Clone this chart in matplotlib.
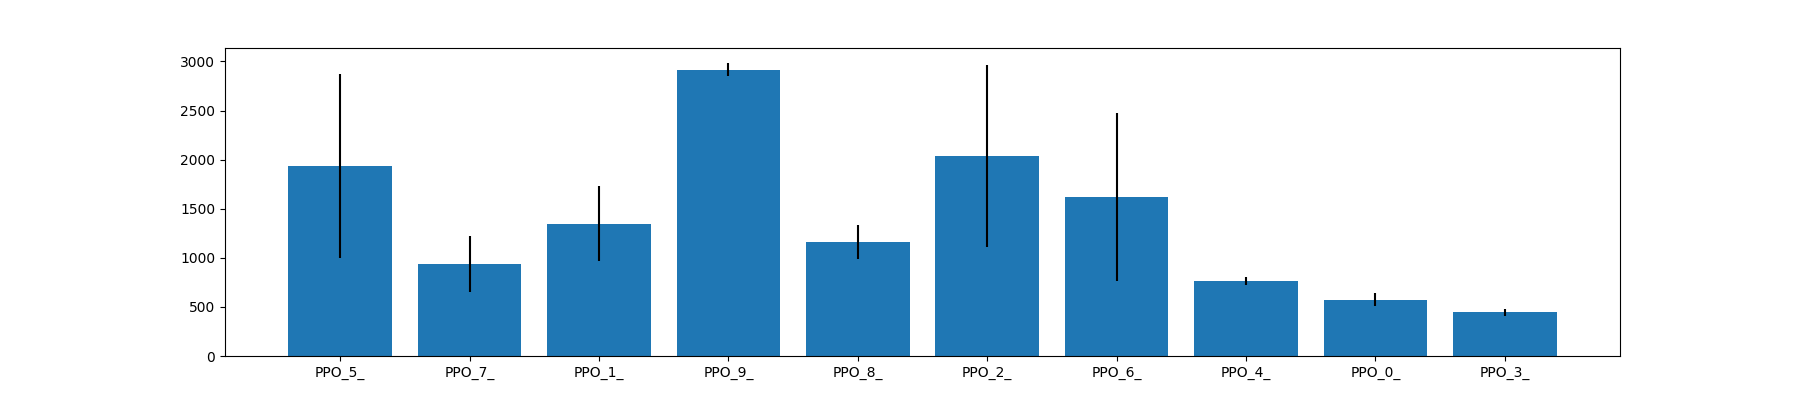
import matplotlib
matplotlib.use('Agg')
import matplotlib.pyplot as plt

labels = ['PPO_5_', 'PPO_7_', 'PPO_1_', 'PPO_9_', 'PPO_8_', 'PPO_2_', 'PPO_6_', 'PPO_4_', 'PPO_0_', 'PPO_3_']
means = [1934, 937, 1348, 2918, 1160, 2039, 1617, 762, 574, 445]
errs = [938, 290, 385, 70, 170, 926, 855, 40, 65, 35]

fig, ax = plt.subplots(figsize=(18, 4), dpi=100)
ax.bar(labels, means, yerr=errs, color='#1f77b4', ecolor='black')
fig.savefig('out.png')
